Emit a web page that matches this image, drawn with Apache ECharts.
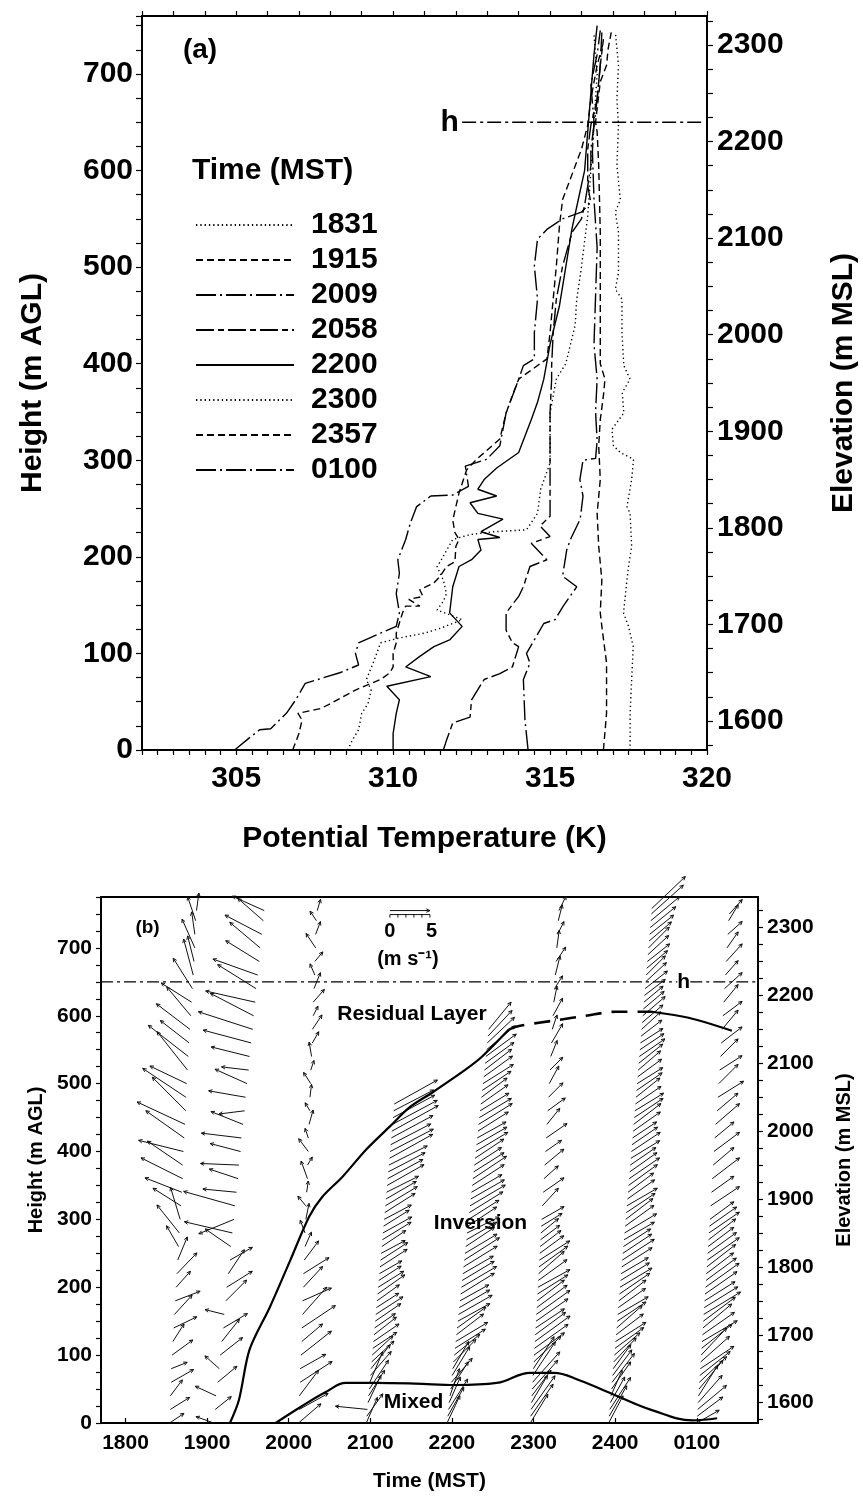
<!DOCTYPE html>
<html><head><meta charset="utf-8">
<script src="https://cdn.jsdelivr.net/npm/echarts@6/dist/echarts.min.js"></script>
<style>html,body{margin:0;padding:0;background:#fff}#c{width:863px;height:1497px}</style>
</head><body><div id="c"></div>
<script>
// ---------------- Panel (a): potential temperature profiles [theta K, height m AGL]
const P1831 = [[317.55,0],[317.55,38],[317.6,73],[317.65,107],[317.5,128],[317.34,142],[317.45,176],[317.5,190],[317.6,211],[317.55,245],[317.45,252],[317.6,280],[317.66,301],[317.24,308],[317.02,315],[316.97,332],[317.35,349],[317.3,370],[317.55,384],[317.35,398],[317.29,432],[317.29,467],[317.08,477],[317.18,494],[317.18,536],[317.08,557],[317.24,570],[317.13,605],[317.18,647],[317.13,674],[317.18,709],[317.08,743]];
const P1915 = [[316.7,0],[316.8,38],[316.8,90],[316.65,128],[316.6,142],[316.65,176],[316.55,211],[316.5,245],[316.6,280],[316.55,315],[316.6,342],[316.7,367],[316.75,384],[316.6,400],[316.6,467],[316.6,536],[316.55,605],[316.5,640],[316.45,650],[316.6,692],[316.8,709],[316.85,726],[316.95,743]];
const P2009 = [[314.3,0],[314.2,31],[314.15,73],[314.36,90],[314.25,100],[314.8,131],[315.16,135],[315.42,149],[315.85,169],[315.4,180],[315.53,207],[315.65,218],[315.96,239],[316.05,263],[315.95,280],[316.05,300],[316.45,302],[316.5,320],[316.45,350],[316.5,384],[316.4,420],[316.45,470],[316.5,520],[316.4,570],[316.35,620],[316.4,650],[316.3,690],[316.5,720],[316.6,745]];
const P2058 = [[311.6,0],[311.7,10],[311.9,28],[312.45,34],[312.5,52],[312.9,73],[313.4,79],[313.8,86],[314.0,107],[313.8,111],[313.6,124],[313.6,142],[314.0,159],[314.15,169],[314.36,190],[314.9,197],[314.4,214],[315.0,221],[314.68,232],[315.0,242],[315.0,280],[315.0,349],[315.05,384],[315.05,398],[315.1,432],[315.2,467],[315.4,501],[315.7,536],[316.0,550],[316.1,564],[316.2,584],[316.2,622],[316.3,647],[316.5,674],[316.6,709],[316.7,736]];
const P2200 = [[310.0,0],[310.0,17],[310.1,38],[310.2,52],[309.8,66],[311.2,76],[310.4,86],[310.85,97],[311.3,107],[311.8,114],[312.2,128],[311.8,142],[311.9,169],[312.1,190],[312.5,197],[312.8,207],[312.7,218],[313.4,220],[312.8,226],[313.5,239],[312.7,245],[312.45,256],[313.3,263],[312.7,270],[312.9,280],[313.3,292],[314.0,308],[314.4,342],[314.6,360],[314.8,384],[315.0,420],[315.3,460],[315.5,500],[315.7,540],[315.9,570],[316.1,600],[316.2,640],[316.3,680],[316.4,720],[316.5,750]];
const P2300 = [[308.55,0],[308.7,10],[308.9,21],[309.0,38],[309.2,48],[309.3,62],[309.15,73],[309.4,93],[309.6,111],[310.2,116],[311.0,121],[311.5,126],[311.9,131],[312.2,135],[311.4,145],[311.6,154],[311.7,162],[311.6,176],[311.4,190],[311.5,195],[311.9,218],[312.45,223],[313.2,226],[314.25,228],[314.6,245],[314.7,270],[315.0,297],[315.0,349],[315.2,384],[315.5,400],[315.8,440],[315.85,467],[316.0,500],[316.2,553],[316.3,600],[316.4,650],[316.5,700],[316.4,740]];
const P2357 = [[306.8,0],[307.0,17],[307.1,31],[306.97,38],[307.7,43],[308.0,48],[308.4,55],[308.8,62],[309.15,67],[309.6,73],[309.9,80],[310.0,86],[310.0,100],[310.1,111],[310.1,121],[310.3,142],[310.4,149],[310.85,149],[310.5,156],[310.95,159],[310.85,166],[311.3,173],[311.5,180],[311.7,190],[311.97,195],[312.0,211],[312.1,218],[311.97,225],[311.9,238],[312.0,252],[312.1,266],[312.34,290],[312.66,301],[313.4,322],[313.6,349],[313.8,367],[314.0,384],[314.9,405],[315.0,432],[315.1,467],[315.2,501],[315.3,543],[315.4,570],[316.0,622],[316.2,647],[316.3,674],[316.5,709],[316.7,733]];
const P0100 = [[304.95,0],[305.4,12],[305.75,21],[306.1,22],[306.6,38],[306.9,52],[307.2,69],[307.5,72],[308.3,80],[308.9,88],[308.8,100],[308.9,111],[309.6,121],[310.1,128],[310.2,142],[310.1,162],[310.2,183],[310.15,197],[310.4,218],[310.55,235],[310.75,252],[311.2,263],[311.9,264],[312.4,273],[312.3,294],[312.98,301],[313.4,315],[313.6,349],[314.0,384],[314.15,398],[314.5,405],[314.5,432],[314.6,467],[314.5,501],[314.6,529],[314.9,539],[315.4,550],[316.0,557],[316.3,567],[316.2,584],[316.3,605],[316.3,622],[316.4,647],[316.5,674],[316.6,709],[316.65,743]];
const PROFILE_NAMES = ['1831','1915','2009','2058','2200','2300','2357','0100'];
const H_LINE_A = [[312.2,650],[319.84,650]];
const THETA_TICKS = [305,310,315,320];

// ---------------- Panel (b): wind vectors [time h, height m AGL, u m/s, v m/s]
const W1831 = [[18.54,0,1.8,1.2],[18.55,20,2.4,1.5],[18.55,40,1.5,2.0],[18.56,60,2.8,1.6],[18.56,80,2.0,0.8],[18.57,100,2.6,1.9],[18.58,120,1.4,2.2],[18.59,140,2.9,1.4],[18.60,160,2.2,2.4],[18.61,180,3.1,1.2],[18.62,200,1.8,2.0],[18.63,220,2.5,2.6],[18.64,240,1.2,2.9],[18.65,260,-1.5,2.6],[18.66,280,-2.8,3.5],[18.67,300,-1.2,4.0],[18.68,320,-3.5,2.2],[18.69,340,-4.6,1.8],[18.70,360,-5.2,2.6],[18.70,380,-4.4,3.0],[18.71,400,-5.6,1.4],[18.72,420,-4.8,3.4],[18.73,440,-6.0,2.8],[18.74,460,-4.2,4.2],[18.74,480,-5.4,3.6],[18.75,500,-4.6,2.2],[18.76,520,-3.8,4.8],[18.77,540,-5.0,3.9],[18.78,560,-3.6,2.8],[18.79,580,-4.2,3.2],[18.80,600,-3.0,3.6],[18.81,620,-3.8,2.4],[18.82,640,-2.4,3.8],[18.83,660,-1.2,4.5],[18.84,680,-0.8,3.2],[18.85,700,-1.6,3.6],[18.85,720,-0.4,2.8],[18.86,740,-1.0,3.0],[18.87,755,0.3,2.2]];
const W1915 = [[19.08,0,-2.2,0.8],[19.10,20,2.0,1.6],[19.11,40,-2.6,1.2],[19.13,60,2.4,2.0],[19.15,80,-1.8,1.6],[19.16,100,2.8,2.2],[19.18,120,2.2,2.8],[19.20,140,3.0,1.8],[19.21,160,-2.4,0.6],[19.23,180,2.6,2.6],[19.24,200,3.2,2.0],[19.26,220,2.0,3.0],[19.28,240,2.8,1.6],[19.29,260,-3.2,2.2],[19.31,280,-6.0,1.4],[19.33,300,-4.4,-1.8],[19.34,320,-6.4,1.8],[19.36,340,-4.2,0.4],[19.38,360,-3.6,1.2],[19.39,380,-4.8,0.2],[19.41,400,-3.8,1.0],[19.42,420,-5.0,0.6],[19.44,440,-4.0,1.6],[19.46,460,-3.2,-0.4],[19.47,480,-4.6,0.8],[19.49,500,-4.0,1.8],[19.51,520,-3.4,0.4],[19.52,540,-4.8,1.2],[19.54,560,-6.0,1.6],[19.56,580,-6.8,2.2],[19.57,600,-5.4,2.8],[19.59,620,-6.2,1.4],[19.60,640,-4.8,3.0],[19.62,660,-5.6,2.0],[19.64,680,-4.2,2.6],[19.65,700,-3.8,3.2],[19.67,720,-4.6,2.4],[19.69,740,-3.2,2.8],[19.70,755,-4.0,1.8]];
const W2009 = [[20.12,0,2.8,2.4],[20.13,20,3.6,2.0],[20.13,40,2.4,3.2],[20.14,60,4.0,2.6],[20.14,80,3.2,1.8],[20.15,100,3.8,3.0],[20.16,120,2.6,2.2],[20.16,140,4.2,2.8],[20.17,160,3.0,3.4],[20.17,180,3.6,1.6],[20.18,200,2.4,2.6],[20.18,220,3.2,2.0],[20.19,240,1.8,2.4],[20.20,260,0.8,1.8],[20.20,280,-0.6,1.6],[20.21,300,0.4,2.0],[20.21,320,-1.0,1.2],[20.22,340,0.2,1.4],[20.23,360,-0.8,2.2],[20.23,380,0.6,1.0],[20.24,400,-1.2,1.6],[20.24,420,-0.4,1.2],[20.25,440,0.5,1.8],[20.26,460,-0.6,1.0],[20.26,480,0.2,1.6],[20.27,500,-0.9,1.4],[20.27,520,0.4,1.2],[20.28,540,-0.3,1.8],[20.29,560,0.8,1.4],[20.29,580,1.2,1.8],[20.30,600,0.6,1.2],[20.30,620,1.4,1.6],[20.31,640,0.8,2.0],[20.32,660,-0.6,1.4],[20.32,680,1.0,1.2],[20.33,700,-1.2,1.8],[20.33,720,0.6,1.6],[20.34,740,-0.8,1.2],[20.35,755,0.4,1.4]];
const W2100 = [[20.950,0,1.4,3.2],[20.957,10,2.0,2.8],[20.965,20,-4.0,0.4],[20.972,30,1.6,3.4],[20.979,40,2.0,3.2],[20.987,50,2.4,3.6],[20.994,60,1.6,3.8],[21.001,70,2.6,3.0],[21.008,80,2.4,3.0],[21.016,90,2.8,2.6],[21.023,100,2.6,2.4],[21.030,110,3.0,2.0],[21.038,120,3.2,2.2],[21.045,130,2.8,2.2],[21.052,140,2.6,1.8],[21.060,150,3.2,2.2],[21.067,160,3.4,2.2],[21.074,170,2.8,1.8],[21.081,180,2.8,2.0],[21.089,190,3.4,2.4],[21.096,200,3.2,2.0],[21.103,210,2.8,1.8],[21.111,220,2.8,1.6],[21.118,230,3.4,2.2],[21.125,240,3.4,2.2],[21.133,250,3.0,1.6],[21.140,260,3.0,2.0],[21.147,270,3.6,2.2],[21.154,280,3.6,2.0],[21.162,290,3.2,2.0],[21.169,300,3.4,1.8],[21.176,310,3.8,2.4],[21.184,320,4.0,2.4],[21.191,330,3.8,2.2],[21.198,340,4.0,2.0],[21.206,350,4.6,2.6],[21.213,360,4.4,2.4],[21.220,370,4.6,2.4],[21.227,380,4.8,2.4],[21.235,390,5.4,3.0],[21.242,400,5.4,2.8],[21.249,410,5.0,2.6],[21.257,420,5.2,2.8],[21.264,430,5.8,3.2],[21.271,440,5.6,3.0],[21.279,450,5.2,2.8],[21.286,460,5.0,2.6],[21.293,470,5.4,3.0]];
const W2200 = [[21.940,0,1.6,3.4],[21.949,10,2.0,3.6],[21.958,20,2.4,3.8],[21.966,30,1.4,3.2],[21.975,40,1.2,3.4],[21.984,50,2.2,3.4],[21.993,60,2.6,3.0],[22.002,70,2.2,3.6],[22.010,80,2.0,3.4],[22.019,90,2.8,2.8],[22.028,100,3.2,2.6],[22.037,110,3.8,2.4],[22.046,120,4.0,2.4],[22.054,130,3.4,2.6],[22.063,140,3.6,2.6],[22.072,150,4.0,2.2],[22.081,160,4.2,2.4],[22.090,170,3.8,2.2],[22.098,180,3.6,2.0],[22.107,190,4.2,2.6],[22.116,200,4.4,2.6],[22.125,210,4.0,2.4],[22.134,220,3.8,2.2],[22.142,230,4.2,2.6],[22.151,240,4.4,2.8],[22.160,250,4.0,2.4],[22.169,260,3.6,2.4],[22.178,270,3.8,2.2],[22.186,280,4.0,2.0],[22.195,290,3.6,2.4],[22.204,300,3.8,2.4],[22.213,310,4.2,2.6],[22.222,320,4.4,2.6],[22.230,330,4.2,2.4],[22.239,340,3.8,2.2],[22.248,350,4.0,2.6],[22.257,360,4.2,2.8],[22.266,370,3.8,2.4],[22.274,380,3.4,2.2],[22.283,390,3.6,2.4],[22.292,400,4.0,2.4],[22.301,410,3.8,2.2],[22.310,420,3.6,2.0],[22.318,430,3.8,2.4],[22.327,440,4.2,2.6],[22.336,450,4.0,2.4],[22.345,460,3.6,2.2],[22.354,470,3.4,2.4],[22.362,480,3.2,2.4],[22.371,490,3.6,2.4],[22.380,500,3.8,2.4],[22.389,510,3.6,2.6],[22.398,520,3.4,2.6],[22.406,530,3.6,2.6],[22.415,540,3.8,2.8],[22.424,550,3.6,3.0],[22.433,560,3.4,3.2],[22.442,570,3.0,3.2],[22.450,580,2.8,3.4]];
const W2300 = [[22.960,0,2.2,3.6],[22.965,10,2.8,4.0],[22.969,20,3.0,4.2],[22.974,30,2.0,3.4],[22.979,40,2.4,3.2],[22.983,50,3.2,3.6],[22.988,60,3.4,3.8],[22.992,70,2.8,4.2],[22.997,80,2.6,4.0],[23.002,90,3.4,3.2],[23.006,100,3.8,2.8],[23.011,110,4.2,3.0],[23.016,120,4.4,3.2],[23.020,130,3.8,2.8],[23.025,140,3.6,2.4],[23.030,150,4.0,2.8],[23.034,160,4.2,3.0],[23.039,170,3.8,2.8],[23.044,180,3.4,2.6],[23.048,190,3.8,2.4],[23.053,200,4.0,2.2],[23.057,210,3.6,2.6],[23.062,220,3.2,2.8],[23.067,230,3.6,2.6],[23.071,240,3.8,2.4],[23.076,250,3.0,2.2],[23.081,260,2.6,2.0],[23.085,270,2.4,1.8],[23.090,280,2.2,1.8],[23.095,290,2.6,1.6],[23.099,300,2.8,1.6],[23.108,320,2.0,2.2],[23.118,340,2.6,1.8],[23.127,360,1.8,1.6],[23.136,380,2.4,2.0],[23.146,400,2.0,1.4],[23.155,420,2.6,1.8],[23.164,440,1.6,2.0],[23.173,460,2.2,1.6],[23.183,480,1.8,1.8],[23.192,500,1.2,2.2],[23.201,520,1.6,1.6],[23.211,540,0.8,2.0],[23.220,560,1.4,2.4],[23.229,580,0.6,1.8],[23.238,600,1.2,2.2],[23.248,620,0.4,2.0],[23.257,640,1.0,1.6],[23.266,660,0.6,2.4],[23.276,680,1.2,1.8],[23.285,700,0.3,2.2],[23.294,720,0.8,1.6],[23.303,740,0.5,2.0],[23.310,755,0.9,1.8]];
const W2357 = [[23.920,0,1.8,3.4],[23.927,10,2.2,3.8],[23.934,20,2.6,4.0],[23.941,30,1.8,3.2],[23.948,40,1.4,3.2],[23.955,50,2.4,3.4],[23.962,60,2.8,3.6],[23.969,70,2.4,3.2],[23.976,80,2.2,3.0],[23.983,90,2.8,3.0],[23.990,100,3.2,2.8],[23.997,110,3.6,2.6],[24.004,120,3.8,2.4],[24.011,130,3.4,2.6],[24.018,140,3.2,2.8],[24.025,150,3.6,2.4],[24.032,160,3.8,2.2],[24.038,170,3.4,2.4],[24.045,180,3.4,2.6],[24.052,190,3.8,2.6],[24.059,200,4.0,2.4],[24.066,210,3.6,2.2],[24.073,220,3.4,2.0],[24.080,230,3.8,2.4],[24.087,240,4.0,2.6],[24.094,250,3.6,2.4],[24.101,260,3.4,2.2],[24.108,270,3.8,2.2],[24.115,280,4.0,2.4],[24.122,290,3.6,2.6],[24.129,300,3.4,2.6],[24.136,310,3.6,2.4],[24.143,320,3.8,2.2],[24.150,330,3.4,2.4],[24.157,340,3.2,2.4],[24.164,350,3.6,2.6],[24.171,360,3.8,2.6],[24.178,370,3.4,2.4],[24.185,380,3.2,2.2],[24.192,390,3.6,2.2],[24.199,400,3.6,2.4],[24.206,410,3.2,2.2],[24.213,420,3.0,2.0],[24.220,430,3.4,2.4],[24.227,440,3.4,2.6],[24.234,450,3.6,2.4],[24.241,460,3.6,2.2],[24.248,470,3.2,2.2],[24.255,480,3.0,2.4],[24.262,490,3.2,2.2],[24.269,500,3.2,2.0],[24.275,510,3.0,2.2],[24.282,520,2.8,2.4],[24.289,530,3.0,2.4],[24.296,540,3.2,2.2],[24.303,550,3.0,2.0],[24.310,560,2.8,1.8],[24.317,570,2.6,2.0],[24.324,580,2.4,2.2],[24.331,590,2.6,2.2],[24.338,600,2.8,2.4],[24.345,610,2.6,2.2],[24.352,620,2.4,2.0],[24.359,630,2.6,2.0],[24.366,640,2.8,2.2],[24.373,650,2.6,2.4],[24.380,660,2.4,2.4],[24.387,670,2.6,2.2],[24.394,680,2.8,2.2],[24.401,690,2.6,2.4],[24.408,700,2.6,2.6],[24.415,710,2.8,2.4],[24.422,720,3.0,2.4],[24.429,730,3.2,2.6],[24.436,740,3.6,3.0],[24.443,750,4.0,3.6],[24.448,758,4.2,4.0]];
const W0100 = [[25.000,0,2.8,1.6],[25.005,10,3.2,2.4],[25.011,20,3.6,3.0],[25.016,30,3.0,3.4],[25.021,40,2.4,3.8],[25.027,50,3.0,3.6],[25.032,60,3.4,3.2],[25.037,70,3.8,3.0],[25.043,80,4.2,2.8],[25.048,90,3.6,3.2],[25.053,100,3.2,3.4],[25.059,110,3.8,3.0],[25.064,120,4.4,2.6],[25.069,130,4.0,2.8],[25.075,140,3.6,3.0],[25.080,150,4.0,3.0],[25.085,160,4.6,2.8],[25.091,170,4.2,2.6],[25.096,180,3.8,2.4],[25.101,190,4.0,2.8],[25.107,200,4.2,3.0],[25.112,210,3.8,2.8],[25.117,220,3.4,2.6],[25.123,230,3.6,2.8],[25.128,240,4.0,2.8],[25.133,250,3.6,2.6],[25.139,260,3.2,2.4],[25.144,270,3.4,2.6],[25.149,280,3.8,2.6],[25.155,290,3.4,2.4],[25.160,300,3.0,2.2],[25.17,320,3.6,2.4],[25.18,340,2.8,2.0],[25.19,360,3.4,2.6],[25.20,380,2.6,2.2],[25.21,400,3.2,2.4],[25.22,420,2.4,2.0],[25.23,440,3.0,2.6],[25.25,460,2.6,2.2],[25.26,480,3.2,2.0],[25.27,500,2.4,2.4],[25.28,520,2.8,1.8],[25.29,540,2.2,2.2],[25.30,560,2.6,2.0],[25.31,580,2.0,2.4],[25.32,600,2.4,1.8],[25.33,620,1.8,2.2],[25.34,640,2.2,2.0],[25.35,660,1.6,1.8],[25.36,680,2.0,2.2],[25.37,700,1.4,2.0],[25.38,720,1.8,1.6],[25.39,740,1.2,2.0],[25.40,750,1.6,1.8]];
const WIND_SOUNDINGS = [W1831,W1915,W2009,W2100,W2200,W2300,W2357,W0100];
// inversion top (solid / dashed / solid) and mixed-layer top [time h, height m]
const INV_SOLID1 = [[19.28,0],[19.39,34],[19.52,108],[19.77,171],[20.02,240],[20.25,304],[20.41,333],[20.66,363],[20.95,403],[21.24,437],[21.48,465],[21.76,487],[22.17,521],[22.37,540],[22.70,580]];
const INV_DASHED = [[22.70,580],[22.82,585],[23.31,594],[23.64,600],[24.01,606],[24.29,606],[24.45,606]];
const INV_SOLID2 = [[24.45,606],[24.9,597],[25.43,578]];
const MIXED = [[19.84,0],[20.15,24],[20.46,46],[20.70,59],[21.06,59],[21.55,58],[22.05,56],[22.55,59],[22.96,74],[23.25,74],[23.56,63],[24.0,41],[24.45,19],[24.95,4],[25.25,7]];
const H_LINE_B = [[17.7,650],[24.76,650],[24.76,'-'],[24.92,650],[25.75,650]];
const TIME_TICKS = [18,19,20,21,22,23,24,25];
const TIME_LABELS = ['1800','1900','2000','2100','2200','2300','2400','0100'];
const ELEV_LABELS = [1600,1700,1800,1900,2000,2100,2200,2300];
const SCALE_VECTOR = [[21.24,755,5,0]];      // 5 m/s reference arrow
const MS_TO_HOURS = 0.098;                   // 1 m/s drawn as this many hours of the time axis
const ANNOT_A = [[303.85,724,'(a)',28],[311.8,650,'h',30]];
const ANNOT_B = [[18.27,729,'(b)',19],[21.24,724,'0',20],[21.75,724,'5',20],[21.46,683,'(m s\u207B\u00B9)',20],[21.51,602,'Residual Layer',21],[22.35,295,'Inversion',21],[21.53,30,'Mixed',21],[24.84,650,'h',21]];

// ---------------- build
const FONT = '"Liberation Sans", Arial, Helvetica, sans-serif';
const ELEV_OFFSET = 1570; // elevation (m MSL) = height AGL + offset
function range(a,b,s){const r=[];for(let v=a;v<=b+1e-9;v+=s)r.push(+v.toFixed(4));return r;}

const chart = echarts.init(document.getElementById('c'), null, {renderer:'canvas'});
const black = '#000';
const lineTypes = {
  '1831':[1.3,3], '1915':[7,4], '2009':[20,4,2,4], '2058':[18,4,6,4],
  '2200':'solid', '2300':[1.3,3], '2357':[7,4], '0100':[20,4,2,4]
};
const profiles = [P1831,P1915,P2009,P2058,P2200,P2300,P2357,P0100];

function arrowItem(params, api){
  const t=api.value(0), z=api.value(1), u=api.value(2), v=api.value(3);
  const p0=api.coord([t,z]);
  const k=api.coord([t+MS_TO_HOURS,z])[0]-p0[0];
  const x2=p0[0]+u*k, y2=p0[1]-v*k;
  const ang=Math.atan2(y2-p0[1], x2-p0[0]);
  const hl=4, ha=0.45;
  const h1=[x2-hl*Math.cos(ang-ha), y2-hl*Math.sin(ang-ha)];
  const h2=[x2-hl*Math.cos(ang+ha), y2-hl*Math.sin(ang+ha)];
  return {type:'group', children:[
    {type:'line', shape:{x1:p0[0],y1:p0[1],x2:x2,y2:y2}, style:{stroke:'#111',lineWidth:1}},
    {type:'polyline', shape:{points:[h1,[x2,y2],h2]}, style:{stroke:'#111',lineWidth:1,fill:null}}
  ]};
}
function scaleItem(params, api){
  const g = arrowItem(params, api);
  const t=api.value(0), z=api.value(1), u=api.value(2);
  const p0=api.coord([t,z]);
  const k=api.coord([t+MS_TO_HOURS,z])[0]-p0[0];
  const y=p0[1]+4;
  g.children.push({type:'line', shape:{x1:p0[0],y1:y,x2:p0[0]+u*k,y2:y}, style:{stroke:'#111',lineWidth:1}});
  for(let i=0;i<=u;i++){
    g.children.push({type:'line', shape:{x1:p0[0]+i*k,y1:y,x2:p0[0]+i*k,y2:y+3}, style:{stroke:'#111',lineWidth:1}});
  }
  return g;
}
function textRenderer(rows){
  return function(params, api){
    const r=rows[params.dataIndex];
    const p=api.coord([api.value(0), api.value(1)]);
    return {type:'text', x:p[0], y:p[1], style:{text:r[2], font:'bold '+r[3]+'px '+FONT, fill:'#000',
      align:'center', verticalAlign:'middle'}};
  };
}

const series = [];
profiles.forEach((d,i)=>{
  const name=PROFILE_NAMES[i];
  series.push({name, type:'line', xAxisIndex:0, yAxisIndex:0, data:d, showSymbol:false, symbol:'none',
    lineStyle:{color:black, width:1.4, type:lineTypes[name]}, itemStyle:{color:black}, animation:false, z:3});
});
series.push({type:'line', xAxisIndex:0, yAxisIndex:0, data:H_LINE_A, symbol:'none',
  lineStyle:{color:black,width:1.4,type:[14,4,3,4]}, animation:false});
series.push({type:'custom', xAxisIndex:0, yAxisIndex:0, data:ANNOT_A.map(r=>[r[0],r[1]]), renderItem:textRenderer(ANNOT_A),
  encode:{x:0,y:1}, animation:false, silent:true, clip:false, z:6});
WIND_SOUNDINGS.forEach(d=>{
  series.push({type:'custom', xAxisIndex:2, yAxisIndex:2, data:d, renderItem:arrowItem,
    encode:{x:0,y:1}, animation:false, silent:true, clip:false});
});
series.push({type:'custom', xAxisIndex:2, yAxisIndex:2, data:SCALE_VECTOR, renderItem:scaleItem,
  encode:{x:0,y:1}, animation:false, silent:true, clip:false});
series.push({type:'line', xAxisIndex:2, yAxisIndex:2, data:INV_SOLID1, symbol:'none', smooth:0.3,
  lineStyle:{color:black,width:2.2}, animation:false, z:4});
series.push({type:'line', xAxisIndex:2, yAxisIndex:2, data:INV_DASHED, symbol:'none', smooth:0.3,
  lineStyle:{color:black,width:2.6,type:[16,10]}, animation:false, z:4});
series.push({type:'line', xAxisIndex:2, yAxisIndex:2, data:INV_SOLID2, symbol:'none', smooth:0.3,
  lineStyle:{color:black,width:2}, animation:false, z:4});
series.push({type:'line', xAxisIndex:2, yAxisIndex:2, data:MIXED, symbol:'none', smooth:0.4,
  lineStyle:{color:black,width:2.2}, animation:false, z:4});
series.push({type:'line', xAxisIndex:2, yAxisIndex:2, data:H_LINE_B, symbol:'none', connectNulls:false,
  lineStyle:{color:black,width:1.3,type:[12,4,3,4]}, animation:false});
series.push({type:'custom', xAxisIndex:2, yAxisIndex:2, data:ANNOT_B.map(r=>[r[0],r[1]]), renderItem:textRenderer(ANNOT_B),
  encode:{x:0,y:1}, animation:false, silent:true, clip:false, z:6});

const axisLineStyle = {show:true, lineStyle:{color:black, width:2}};
const lblA = {color:black, fontFamily:FONT, fontWeight:'bold', fontSize:30};
const lblB = {color:black, fontFamily:FONT, fontWeight:'bold', fontSize:21};

const option = {
  backgroundColor:'#fff',
  animation:false,
  textStyle:{fontFamily:FONT},
  grid:[
    {left:142, top:16, width:565, height:734, show:true, borderColor:black, borderWidth:2, containLabel:false, outerBoundsMode:'none'},
    {left:101, top:897, width:657, height:526, show:true, borderColor:black, borderWidth:2, containLabel:false, outerBoundsMode:'none'}
  ],
  legend:{
    data:PROFILE_NAMES, orient:'vertical', left:190, top:205, itemWidth:98, itemHeight:14, itemGap:5,
    itemStyle:{opacity:0},
    textStyle:{color:black, fontFamily:FONT, fontWeight:'bold', fontSize:30, lineHeight:30, padding:[0,0,0,12]},
    selectedMode:false
  },
  graphic:[
    {type:'text', left:192, top:156, style:{text:'Time (MST)', font:'bold 30px '+FONT, fill:black}}
  ],
  xAxis:[
    {gridIndex:0, type:'value', min:302, max:320, interval:0.5, position:'bottom',
     name:'Potential Temperature (K)', nameLocation:'middle', nameGap:74, nameTextStyle:{...lblA},
     axisLine:axisLineStyle, axisTick:{show:true, inside:false, length:5, lineStyle:{color:black,width:1.2}},
     axisLabel:{...lblA, margin:14, formatter:v=>THETA_TICKS.includes(v)?String(v):''},
     splitLine:{show:false}},
    {gridIndex:0, type:'value', min:302, max:320, interval:1, position:'top',
     axisLine:axisLineStyle, axisTick:{show:true, inside:false, length:5, lineStyle:{color:black,width:1.2}},
     axisLabel:{show:false}, splitLine:{show:false}},
    {gridIndex:1, type:'value', min:17.7, max:25.75, position:'bottom',
     name:'Time (MST)', nameLocation:'middle', nameGap:48, nameTextStyle:{...lblB},
     axisLine:axisLineStyle,
     axisTick:{show:true, inside:true, length:5, customValues:TIME_TICKS, lineStyle:{color:black,width:1.2}},
     axisLabel:{...lblB, margin:10, customValues:TIME_TICKS, formatter:v=>TIME_LABELS[TIME_TICKS.indexOf(Math.round(v))]},
     splitLine:{show:false}},
    {gridIndex:1, type:'value', min:17.7, max:25.75, position:'top',
     axisLine:axisLineStyle, axisTick:{show:false}, axisLabel:{show:false}, splitLine:{show:false}}
  ],
  yAxis:[
    {gridIndex:0, type:'value', min:0, max:760, interval:25, position:'left',
     name:'Height (m AGL)', nameLocation:'middle', nameGap:94, nameRotate:90, nameTextStyle:{...lblA},
     axisLine:axisLineStyle, axisTick:{show:true, inside:false, length:6, lineStyle:{color:black,width:1.2}},
     axisLabel:{...lblA, margin:9, formatter:v=>(v%100===0?String(v):'')}, splitLine:{show:false}},
    {gridIndex:0, type:'value', min:ELEV_OFFSET, max:760+ELEV_OFFSET, position:'right',
     name:'Elevation (m MSL)', nameLocation:'middle', nameGap:122, nameRotate:90, nameTextStyle:{...lblA},
     axisLine:axisLineStyle,
     axisTick:{show:true, inside:false, length:6, customValues:range(1575,2325,25), lineStyle:{color:black,width:1.2}},
     axisLabel:{...lblA, margin:10, customValues:ELEV_LABELS, formatter:v=>String(v)}, splitLine:{show:false}},
    {gridIndex:1, type:'value', min:0, max:775, interval:25, position:'left',
     name:'Height (m AGL)', nameLocation:'middle', nameGap:54, nameRotate:90, nameTextStyle:{...lblB, fontSize:20},
     axisLine:axisLineStyle, axisTick:{show:true, inside:false, length:5, lineStyle:{color:black,width:1.2}},
     axisLabel:{...lblB, margin:9, formatter:v=>(v%100===0?String(v):'')}, splitLine:{show:false}},
    {gridIndex:1, type:'value', min:ELEV_OFFSET, max:775+ELEV_OFFSET, position:'right',
     name:'Elevation (m MSL)', nameLocation:'middle', nameGap:76, nameRotate:90, nameTextStyle:{...lblB, fontSize:20},
     axisLine:axisLineStyle,
     axisTick:{show:true, inside:false, length:5, customValues:range(1575,2325,25), lineStyle:{color:black,width:1.2}},
     axisLabel:{...lblB, margin:9, customValues:ELEV_LABELS, formatter:v=>String(v)}, splitLine:{show:false}}
  ],
  series
};
chart.setOption(option);
</script></body></html>
